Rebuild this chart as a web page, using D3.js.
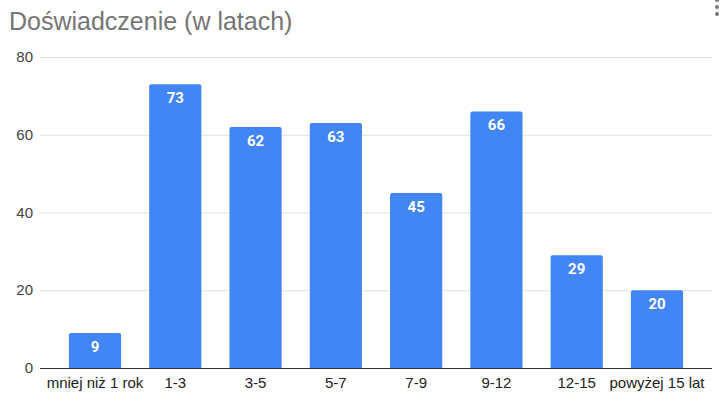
<!DOCTYPE html>
<html>
<head>
<meta charset="utf-8">
<script src="https://cdn.jsdelivr.net/npm/d3@7"></script>
<style>
  body { margin: 0; background: #fff; }
  svg { display: block; font-family: "Liberation Sans", Arial, sans-serif; }
</style>
</head>
<body>
<div id="chart"></div>
<script>
var categories = ["mniej niż 1 rok", "1-3", "3-5", "5-7", "7-9", "9-12", "12-15", "powyżej 15 lat"];
var values = [9, 73, 62, 63, 45, 66, 29, 20];
var yTicks = [0, 20, 40, 60, 80];
var title = "Doświadczenie (w latach)";

var width = 722, height = 401;
var plotLeft = 40, plotRight = 712, plotTop = 57, plotBottom = 368;

var svg = d3.select("#chart").append("svg")
    .attr("width", width)
    .attr("height", height);

var x = d3.scaleBand()
    .domain(categories)
    .range([plotLeft, plotRight])
    .paddingInner(0.35)
    .paddingOuter(0.36);

var y = d3.scaleLinear()
    .domain([0, 80])
    .range([plotBottom, plotTop]);

svg.append("text")
    .attr("x", 9)
    .attr("y", 30)
    .style("font-size", "25px")
    .style("fill", "#757575")
    .text(title);

// menu dots
[0, 7, 14].forEach(function(d) {
    svg.append("circle")
        .attr("cx", 717)
        .attr("cy", d)
        .attr("r", 2)
        .style("fill", "#757575");
});

// gridlines
svg.selectAll(".grid")
    .data(yTicks.filter(function(d) { return d > 0; }))
    .enter().append("line")
    .attr("x1", plotLeft)
    .attr("x2", plotRight)
    .attr("y1", function(d) { return y(d) + 0.5; })
    .attr("y2", function(d) { return y(d) + 0.5; })
    .style("stroke", "#e0e0e0")
    .style("stroke-width", 1);

svg.selectAll(".ylab")
    .data(yTicks)
    .enter().append("text")
    .attr("x", 33)
    .attr("y", function(d) { return y(d) + 5; })
    .attr("text-anchor", "end")
    .style("font-size", "15px")
    .style("fill", "#444")
    .text(function(d) { return d; });

// bars with rounded top
svg.selectAll(".bar")
    .data(values)
    .enter().append("path")
    .attr("d", function(d, i) {
        var x0 = x(categories[i]), w = x.bandwidth(), y0 = y(d), r = 2;
        return "M" + x0 + "," + plotBottom +
            "V" + (y0 + r) + "Q" + x0 + "," + y0 + " " + (x0 + r) + "," + y0 +
            "H" + (x0 + w - r) + "Q" + (x0 + w) + "," + y0 + " " + (x0 + w) + "," + (y0 + r) +
            "V" + plotBottom + "Z";
    })
    .style("fill", "#4285f4");

svg.selectAll(".val")
    .data(values)
    .enter().append("text")
    .attr("x", function(d, i) { return x(categories[i]) + x.bandwidth() / 2; })
    .attr("y", function(d) { return y(d) + 19; })
    .attr("text-anchor", "middle")
    .style("font-family", "Roboto, sans-serif")
    .style("font-weight", "bold")
    .style("font-size", "15px")
    .style("fill", "#fff")
    .text(function(d) { return d; });

// baseline
svg.append("line")
    .attr("x1", plotLeft)
    .attr("x2", plotRight)
    .attr("y1", plotBottom + 0.5)
    .attr("y2", plotBottom + 0.5)
    .style("stroke", "#333")
    .style("stroke-width", 1);

svg.selectAll(".xlab")
    .data(categories)
    .enter().append("text")
    .attr("x", function(d) { return x(d) + x.bandwidth() / 2; })
    .attr("y", 388)
    .attr("text-anchor", "middle")
    .style("font-size", "15px")
    .style("fill", "#222")
    .text(function(d) { return d; });
</script>
</body>
</html>
